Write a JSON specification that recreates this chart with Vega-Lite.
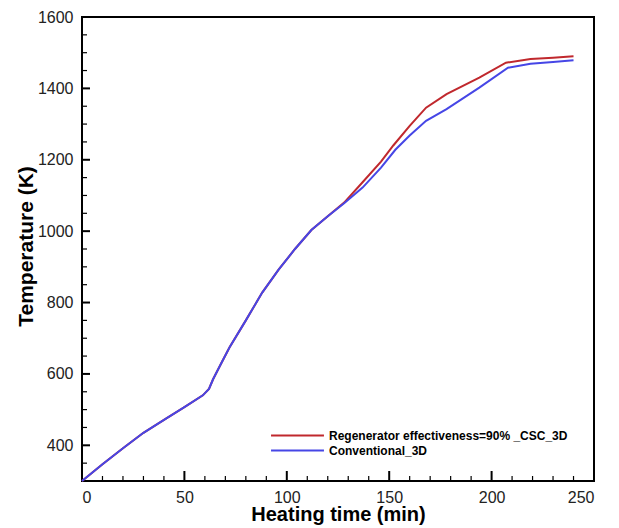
{
  "$schema": "https://vega.github.io/schema/vega-lite/v6.json",
  "width": 512,
  "height": 464,
  "autosize": {"type": "none"},
  "padding": {"left": 82, "top": 17, "right": 25, "bottom": 47},
  "background": "white",
  "config": {
    "view": {"stroke": "black", "strokeWidth": 2},
    "font": "Liberation Sans",
    "axis": {
      "grid": false,
      "domain": false,
      "ticks": false,
      "labelFont": "Liberation Sans",
      "labelFontSize": 16,
      "labelColor": "#222",
      "titleFont": "Liberation Sans",
      "titleFontSize": 21,
      "titleFontWeight": "bold",
      "titleColor": "black"
    }
  },
  "layer": [
    {
      "data": {
        "values": [
          {"t": 0, "T": 300, "s": "Regenerator effectiveness=90% _CSC_3D"},
          {"t": 10, "T": 347, "s": "Regenerator effectiveness=90% _CSC_3D"},
          {"t": 20, "T": 392, "s": "Regenerator effectiveness=90% _CSC_3D"},
          {"t": 30, "T": 435, "s": "Regenerator effectiveness=90% _CSC_3D"},
          {"t": 41, "T": 475, "s": "Regenerator effectiveness=90% _CSC_3D"},
          {"t": 50, "T": 507, "s": "Regenerator effectiveness=90% _CSC_3D"},
          {"t": 59, "T": 540, "s": "Regenerator effectiveness=90% _CSC_3D"},
          {"t": 62, "T": 558, "s": "Regenerator effectiveness=90% _CSC_3D"},
          {"t": 64, "T": 585, "s": "Regenerator effectiveness=90% _CSC_3D"},
          {"t": 68, "T": 630, "s": "Regenerator effectiveness=90% _CSC_3D"},
          {"t": 72, "T": 674, "s": "Regenerator effectiveness=90% _CSC_3D"},
          {"t": 80, "T": 750, "s": "Regenerator effectiveness=90% _CSC_3D"},
          {"t": 88, "T": 828, "s": "Regenerator effectiveness=90% _CSC_3D"},
          {"t": 96, "T": 892, "s": "Regenerator effectiveness=90% _CSC_3D"},
          {"t": 104, "T": 950, "s": "Regenerator effectiveness=90% _CSC_3D"},
          {"t": 112, "T": 1003, "s": "Regenerator effectiveness=90% _CSC_3D"},
          {"t": 120, "T": 1042, "s": "Regenerator effectiveness=90% _CSC_3D"},
          {"t": 128, "T": 1080, "s": "Regenerator effectiveness=90% _CSC_3D"},
          {"t": 137, "T": 1137, "s": "Regenerator effectiveness=90% _CSC_3D"},
          {"t": 146, "T": 1195, "s": "Regenerator effectiveness=90% _CSC_3D"},
          {"t": 152, "T": 1240, "s": "Regenerator effectiveness=90% _CSC_3D"},
          {"t": 160, "T": 1295, "s": "Regenerator effectiveness=90% _CSC_3D"},
          {"t": 168, "T": 1346, "s": "Regenerator effectiveness=90% _CSC_3D"},
          {"t": 178, "T": 1384, "s": "Regenerator effectiveness=90% _CSC_3D"},
          {"t": 194, "T": 1430, "s": "Regenerator effectiveness=90% _CSC_3D"},
          {"t": 207, "T": 1472, "s": "Regenerator effectiveness=90% _CSC_3D"},
          {"t": 219, "T": 1482, "s": "Regenerator effectiveness=90% _CSC_3D"},
          {"t": 230, "T": 1486, "s": "Regenerator effectiveness=90% _CSC_3D"},
          {"t": 240, "T": 1490, "s": "Regenerator effectiveness=90% _CSC_3D"},
          {"t": 0, "T": 300, "s": "Conventional_3D"},
          {"t": 10, "T": 347, "s": "Conventional_3D"},
          {"t": 20, "T": 392, "s": "Conventional_3D"},
          {"t": 30, "T": 435, "s": "Conventional_3D"},
          {"t": 41, "T": 475, "s": "Conventional_3D"},
          {"t": 50, "T": 507, "s": "Conventional_3D"},
          {"t": 59, "T": 540, "s": "Conventional_3D"},
          {"t": 62, "T": 558, "s": "Conventional_3D"},
          {"t": 64, "T": 585, "s": "Conventional_3D"},
          {"t": 68, "T": 630, "s": "Conventional_3D"},
          {"t": 72, "T": 674, "s": "Conventional_3D"},
          {"t": 80, "T": 750, "s": "Conventional_3D"},
          {"t": 88, "T": 828, "s": "Conventional_3D"},
          {"t": 96, "T": 892, "s": "Conventional_3D"},
          {"t": 104, "T": 950, "s": "Conventional_3D"},
          {"t": 112, "T": 1003, "s": "Conventional_3D"},
          {"t": 120, "T": 1042, "s": "Conventional_3D"},
          {"t": 128, "T": 1078, "s": "Conventional_3D"},
          {"t": 137, "T": 1122, "s": "Conventional_3D"},
          {"t": 146, "T": 1178, "s": "Conventional_3D"},
          {"t": 153, "T": 1228, "s": "Conventional_3D"},
          {"t": 160, "T": 1268, "s": "Conventional_3D"},
          {"t": 168, "T": 1309, "s": "Conventional_3D"},
          {"t": 178, "T": 1342, "s": "Conventional_3D"},
          {"t": 194, "T": 1402, "s": "Conventional_3D"},
          {"t": 208, "T": 1458, "s": "Conventional_3D"},
          {"t": 219, "T": 1469, "s": "Conventional_3D"},
          {"t": 230, "T": 1474, "s": "Conventional_3D"},
          {"t": 240, "T": 1479, "s": "Conventional_3D"}
        ]
      },
      "mark": {"type": "line", "strokeWidth": 2},
      "encoding": {
        "x": {
          "field": "t",
          "type": "quantitative",
          "scale": {"domain": [0, 250], "nice": false},
          "axis": {
            "title": "Heating time (min)",
            "values": [0, 50, 100, 150, 200, 250],
            "labelPadding": 8,
            "titleFontSize": 20,
            "titleY": 39,
            "titleBaseline": "alphabetic"
          }
        },
        "y": {
          "field": "T",
          "type": "quantitative",
          "scale": {"domain": [300, 1600], "nice": false, "zero": false},
          "axis": {
            "title": "Temperature (K)",
            "values": [400, 600, 800, 1000, 1200, 1400, 1600],
            "format": "d",
            "labelPadding": 9,
            "titleX": -50,
            "titleY": 229,
            "titleAngle": -90,
            "titleAlign": "center",
            "titleBaseline": "alphabetic"
          }
        },
        "color": {
          "field": "s",
          "type": "nominal",
          "scale": {
            "domain": ["Regenerator effectiveness=90% _CSC_3D", "Conventional_3D"],
            "range": ["#c0282d", "#4646e6"]
          },
          "legend": {
            "title": null,
            "orient": "none",
            "legendX": 188,
            "legendY": 412,
            "symbolType": "stroke",
            "symbolSize": 2800,
            "clipHeight": 13,
            "symbolStrokeWidth": 2,
            "labelFontSize": 12,
            "labelFontWeight": "bold",
            "labelFont": "Liberation Sans",
            "labelColor": "black",
            "labelLimit": 400,
            "rowPadding": 2
          }
        }
      }
    },
    {
      "data": {"values": [{"t": 50}, {"t": 100}, {"t": 150}, {"t": 200}]},
      "mark": {"type": "tick", "orient": "vertical", "size": 10, "thickness": 2, "color": "black", "opacity": 1, "yOffset": -5},
      "encoding": {
        "x": {"field": "t", "type": "quantitative", "scale": {"domain": [0, 250], "nice": false}},
        "y": {"datum": 300, "type": "quantitative", "scale": {"domain": [300, 1600], "nice": false, "zero": false}}
      }
    },
    {
      "data": {"values": [{"t": 10}, {"t": 20}, {"t": 30}, {"t": 40}, {"t": 60}, {"t": 70}, {"t": 80}, {"t": 90}, {"t": 110}, {"t": 120}, {"t": 130}, {"t": 140}, {"t": 160}, {"t": 170}, {"t": 180}, {"t": 190}, {"t": 210}, {"t": 220}, {"t": 230}, {"t": 240}]},
      "mark": {"type": "tick", "orient": "vertical", "size": 5, "thickness": 1.2, "color": "black", "opacity": 1, "yOffset": -2.5},
      "encoding": {
        "x": {"field": "t", "type": "quantitative", "scale": {"domain": [0, 250], "nice": false}},
        "y": {"datum": 300, "type": "quantitative", "scale": {"domain": [300, 1600], "nice": false, "zero": false}}
      }
    },
    {
      "data": {"values": [{"T": 400}, {"T": 600}, {"T": 800}, {"T": 1000}, {"T": 1200}, {"T": 1400}]},
      "mark": {"type": "tick", "orient": "horizontal", "size": 8, "thickness": 2, "color": "black", "opacity": 1, "xOffset": 4},
      "encoding": {
        "y": {"field": "T", "type": "quantitative", "scale": {"domain": [300, 1600], "nice": false, "zero": false}},
        "x": {"datum": 0, "type": "quantitative", "scale": {"domain": [0, 250], "nice": false}}
      }
    },
    {
      "data": {"values": [{"T": 350}, {"T": 450}, {"T": 500}, {"T": 550}, {"T": 650}, {"T": 700}, {"T": 750}, {"T": 850}, {"T": 900}, {"T": 950}, {"T": 1050}, {"T": 1100}, {"T": 1150}, {"T": 1250}, {"T": 1300}, {"T": 1350}, {"T": 1450}, {"T": 1500}, {"T": 1550}]},
      "mark": {"type": "tick", "orient": "horizontal", "size": 5, "thickness": 1.2, "color": "black", "opacity": 1, "xOffset": 2.5},
      "encoding": {
        "y": {"field": "T", "type": "quantitative", "scale": {"domain": [300, 1600], "nice": false, "zero": false}},
        "x": {"datum": 0, "type": "quantitative", "scale": {"domain": [0, 250], "nice": false}}
      }
    }
  ]
}
